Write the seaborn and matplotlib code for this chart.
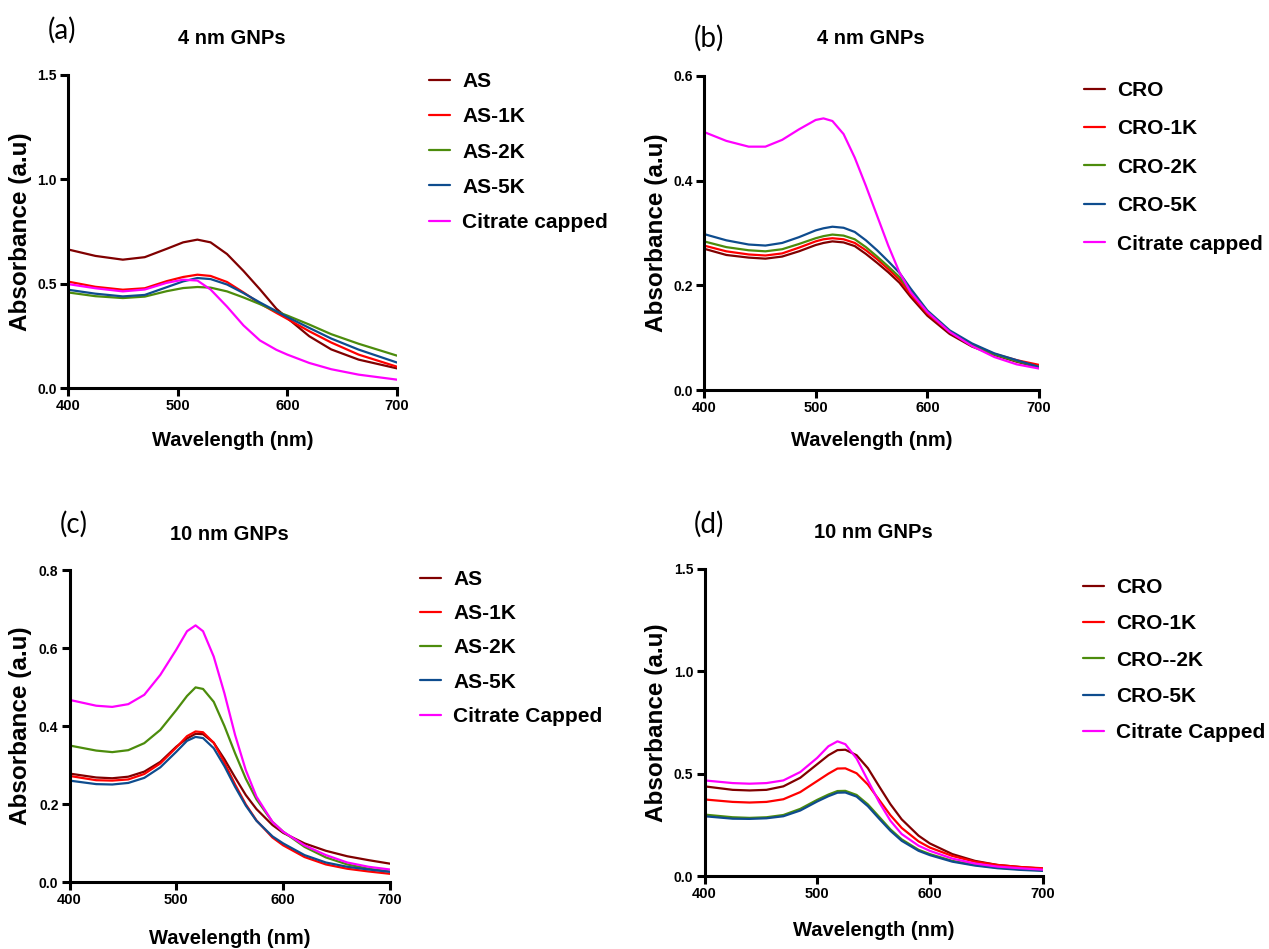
import numpy as np
import pandas as pd
import seaborn as sns
import matplotlib.pyplot as plt

# -------------------------------
# Data
# -------------------------------
# panel (a): 4 nm GNPs + AS conjugates
wl_a = [400, 425, 450, 470, 490, 505, 518, 530, 545, 560, 575, 590, 600, 620, 640, 665, 700]
a_as = [0.664, 0.633, 0.615, 0.627, 0.667, 0.698, 0.711, 0.698, 0.642, 0.561, 0.473, 0.380, 0.335, 0.248, 0.185, 0.136, 0.094]
a_as1k = [0.510, 0.485, 0.471, 0.478, 0.512, 0.532, 0.543, 0.537, 0.508, 0.458, 0.405, 0.360, 0.331, 0.272, 0.218, 0.160, 0.102]
a_as2k = [0.458, 0.440, 0.431, 0.438, 0.464, 0.479, 0.484, 0.481, 0.463, 0.434, 0.402, 0.367, 0.347, 0.304, 0.258, 0.212, 0.155]
a_as5k = [0.471, 0.452, 0.439, 0.446, 0.483, 0.511, 0.527, 0.522, 0.496, 0.455, 0.410, 0.368, 0.340, 0.288, 0.237, 0.184, 0.122]
a_cit = [0.498, 0.478, 0.463, 0.472, 0.504, 0.519, 0.515, 0.472, 0.390, 0.300, 0.228, 0.183, 0.160, 0.120, 0.090, 0.064, 0.040]
labels_a = ["AS", "AS-1K", "AS-2K", "AS-5K", "Citrate capped"]

# panel (b): 4 nm GNPs + CRO conjugates
wl_b = [400, 420, 440, 455, 470, 485, 500, 507, 515, 525, 535, 545, 555, 565, 575, 585, 600, 620, 640, 660, 680, 700]
b_cro = [0.270, 0.258, 0.253, 0.251, 0.255, 0.265, 0.277, 0.281, 0.284, 0.282, 0.275, 0.260, 0.243, 0.225, 0.205, 0.178, 0.142, 0.107, 0.083, 0.067, 0.054, 0.043]
b_cro1k = [0.276, 0.265, 0.259, 0.257, 0.261, 0.272, 0.284, 0.288, 0.290, 0.288, 0.281, 0.267, 0.250, 0.231, 0.211, 0.183, 0.146, 0.111, 0.087, 0.069, 0.057, 0.048]
b_cro2k = [0.284, 0.273, 0.267, 0.265, 0.269, 0.279, 0.290, 0.294, 0.297, 0.295, 0.288, 0.273, 0.255, 0.236, 0.216, 0.188, 0.149, 0.112, 0.087, 0.068, 0.055, 0.044]
b_cro5k = [0.298, 0.286, 0.278, 0.276, 0.281, 0.292, 0.305, 0.309, 0.312, 0.310, 0.302, 0.286, 0.267, 0.246, 0.224, 0.194, 0.152, 0.114, 0.089, 0.070, 0.057, 0.044]
b_cit = [0.493, 0.476, 0.465, 0.465, 0.478, 0.498, 0.516, 0.519, 0.514, 0.489, 0.444, 0.390, 0.333, 0.276, 0.225, 0.187, 0.149, 0.111, 0.084, 0.063, 0.049, 0.041]
labels_b = ["CRO", "CRO-1K", "CRO-2K", "CRO-5K", "Citrate capped"]

# panel (c): 10 nm GNPs + AS conjugates
wl_c = [400, 425, 440, 455, 470, 485, 500, 510, 518, 525, 535, 545, 555, 565, 575, 590, 600, 620, 640, 660, 680, 700]
c_as = [0.278, 0.268, 0.266, 0.270, 0.283, 0.308, 0.347, 0.368, 0.380, 0.379, 0.357, 0.315, 0.268, 0.223, 0.187, 0.146, 0.126, 0.099, 0.080, 0.066, 0.056, 0.047]
c_as1k = [0.272, 0.261, 0.260, 0.263, 0.277, 0.304, 0.345, 0.374, 0.386, 0.384, 0.357, 0.306, 0.250, 0.199, 0.158, 0.114, 0.094, 0.064, 0.045, 0.034, 0.027, 0.021]
c_as2k = [0.350, 0.337, 0.333, 0.338, 0.356, 0.390, 0.441, 0.477, 0.499, 0.495, 0.462, 0.400, 0.330, 0.265, 0.212, 0.154, 0.129, 0.090, 0.063, 0.045, 0.034, 0.027]
c_as5k = [0.260, 0.251, 0.250, 0.254, 0.267, 0.294, 0.334, 0.362, 0.372, 0.369, 0.343, 0.297, 0.244, 0.196, 0.157, 0.117, 0.099, 0.069, 0.050, 0.039, 0.032, 0.026]
c_cit = [0.467, 0.452, 0.449, 0.456, 0.480, 0.531, 0.596, 0.643, 0.658, 0.643, 0.578, 0.484, 0.377, 0.287, 0.219, 0.154, 0.129, 0.094, 0.069, 0.050, 0.039, 0.032]
labels_c = ["AS", "AS-1K", "AS-2K", "AS-5K", "Citrate Capped"]

# panel (d): 10 nm GNPs + CRO conjugates
wl_d = [400, 425, 440, 455, 470, 485, 500, 510, 518, 525, 535, 545, 555, 565, 575, 590, 600, 620, 640, 660, 680, 700]
d_cro = [0.438, 0.421, 0.418, 0.421, 0.438, 0.480, 0.546, 0.590, 0.615, 0.617, 0.590, 0.527, 0.438, 0.351, 0.277, 0.197, 0.159, 0.107, 0.074, 0.054, 0.044, 0.036]
d_cro1k = [0.374, 0.362, 0.359, 0.362, 0.375, 0.410, 0.464, 0.500, 0.525, 0.526, 0.502, 0.447, 0.372, 0.297, 0.235, 0.169, 0.139, 0.098, 0.070, 0.054, 0.044, 0.038]
d_cro2k = [0.300, 0.287, 0.284, 0.287, 0.298, 0.328, 0.372, 0.398, 0.415, 0.416, 0.396, 0.350, 0.289, 0.228, 0.179, 0.128, 0.107, 0.074, 0.054, 0.041, 0.033, 0.028]
d_cro5k = [0.292, 0.280, 0.279, 0.282, 0.292, 0.320, 0.364, 0.390, 0.407, 0.408, 0.388, 0.341, 0.280, 0.221, 0.172, 0.123, 0.102, 0.070, 0.051, 0.038, 0.030, 0.025]
d_cit = [0.467, 0.454, 0.451, 0.454, 0.467, 0.508, 0.577, 0.634, 0.658, 0.644, 0.574, 0.467, 0.361, 0.270, 0.205, 0.148, 0.123, 0.085, 0.061, 0.046, 0.038, 0.031]
labels_d = ["CRO", "CRO-1K", "CRO--2K", "CRO-5K", "Citrate Capped"]

colors = ["#800000", "#FF0000", "#4C8C0C", "#0E4C8E", "#FF00FF"]

# -------------------------------
# Style
# -------------------------------
sns.set_style("ticks")
plt.rcParams['font.family'] = ['Liberation Sans', 'DejaVu Sans']
plt.rcParams['font.weight'] = 'bold'
plt.rcParams['axes.labelweight'] = 'bold'
for key in ['text.color', 'axes.labelcolor', 'xtick.color', 'ytick.color', 'axes.edgecolor']:
    plt.rcParams[key] = 'black'

W, H = 1269, 949
fig = plt.figure(figsize=(W / 100, H / 100), dpi=100)


def make_panel(rect, wl, series, labels, ymax, yticks, title, tag,
               title_xy, tag_xy, leg_xy, leg_space, xlab_y, ylab_x):
    left, top, right, bottom = rect
    ax = fig.add_axes([left / W, 1 - bottom / H, (right - left) / W, (bottom - top) / H])

    df = pd.concat([pd.DataFrame({"Wavelength": wl, "Absorbance": s, "Sample": lab})
                    for s, lab in zip(series, labels)], ignore_index=True)
    sns.lineplot(data=df, x="Wavelength", y="Absorbance", hue="Sample",
                 hue_order=labels, palette=dict(zip(labels, colors)),
                 linewidth=1.6, ax=ax)

    ax.set_xlim(400, 700)
    ax.set_ylim(0, ymax)
    ax.set_xticks([400, 500, 600, 700])
    ax.set_yticks(yticks)
    sns.despine(ax=ax)
    for sp in ["left", "bottom"]:
        ax.spines[sp].set_linewidth(2.2)
    ax.tick_params(direction='out', length=6, width=2.2, pad=2, colors='black')
    ax.tick_params(axis='x', labelsize=10.5)
    ax.tick_params(axis='y', labelsize=10)

    ax.set_xlabel("Wavelength (nm)", fontsize=14.5, va='center')
    ax.set_ylabel("Absorbance (a.u)", fontsize=17.5, va='center')
    ax.xaxis.set_label_coords(((left + right) / 2) / W, 1 - xlab_y / H, transform=fig.transFigure)
    ax.yaxis.set_label_coords(ylab_x / W, 1 - ((top + bottom) / 2) / H, transform=fig.transFigure)

    fig.text(title_xy[0] / W, 1 - title_xy[1] / H, title, fontsize=14.5,
             fontweight='bold', ha='center', va='center')
    fig.text(tag_xy[0] / W, 1 - tag_xy[1] / H, tag, fontsize=20, fontweight='normal',
             family=['Lato', 'DejaVu Sans'], ha='center', va='center')

    sns.move_legend(ax, "upper left", bbox_to_anchor=(leg_xy[0] / W, 1 - leg_xy[1] / H),
                    bbox_transform=fig.transFigure, title=None, frameon=False,
                    fontsize=15, handlelength=1.0, handletextpad=0.6,
                    labelspacing=leg_space, borderpad=0, borderaxespad=0)
    for h in ax.get_legend().get_lines():
        h.set_linewidth(1.6)
    return ax


make_panel((68, 75, 397, 388), wl_a, [a_as, a_as1k, a_as2k, a_as5k, a_cit], labels_a,
           1.5, [0.0, 0.5, 1.0, 1.5], "4 nm GNPs", "(a)",
           (232, 39), (62, 30), (429, 72), 0.78, 441, 21)
make_panel((704, 76, 1039, 390), wl_b, [b_cro, b_cro1k, b_cro2k, b_cro5k, b_cit], labels_b,
           0.6, [0.0, 0.2, 0.4, 0.6], "4 nm GNPs", "(b)",
           (871, 38), (709, 38), (1084, 81), 0.93, 440, 656)
make_panel((69.5, 570, 390, 882), wl_c, [c_as, c_as1k, c_as2k, c_as5k, c_cit], labels_c,
           0.8, [0.0, 0.2, 0.4, 0.6, 0.8], "10 nm GNPs", "(c)",
           (229, 534), (74, 524), (420, 570), 0.73, 938, 21)
make_panel((704.5, 569, 1042.5, 876), wl_d, [d_cro, d_cro1k, d_cro2k, d_cro5k, d_cit], labels_d,
           1.5, [0.0, 0.5, 1.0, 1.5], "10 nm GNPs", "(d)",
           (873, 532), (709, 524), (1083, 578), 0.83, 931, 656)

fig.savefig("out.png", dpi=100)
